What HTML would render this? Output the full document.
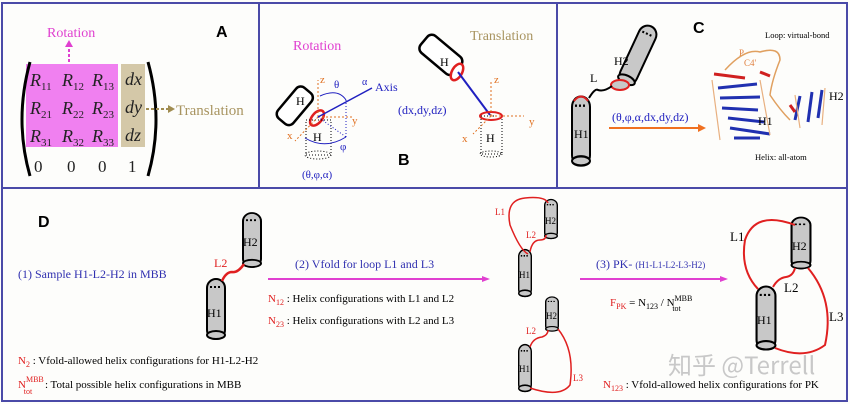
<!DOCTYPE html>
<html><head><meta charset="utf-8"><style>
body{margin:0;background:#fff}
svg{display:block}
.s{font-family:"Liberation Serif",serif}
.b{font-family:"Liberation Sans",sans-serif;font-weight:bold}
</style></head><body>
<svg width="850" height="404" viewBox="0 0 850 404" xmlns="http://www.w3.org/2000/svg">
<defs>
<g id="cylV"><!-- vertical cylinder centered at 0, width 18, height 60 -->
<rect x="-9" y="-30" width="18" height="60" rx="9" fill="#c8c8c8" stroke="#000" stroke-width="2"/>
<ellipse cx="0" cy="26" rx="9" ry="4" fill="#c8c8c8" stroke="#000" stroke-width="2"/>
<path d="M-6 -22 h12" stroke="#000" stroke-width="2" stroke-dasharray="2,2"/>
</g>
</defs>
<rect x="0" y="0" width="850" height="404" fill="#fdfdfb"/>
<!-- borders -->
<rect x="2" y="3" width="845" height="398" fill="none" stroke="#4a4aa8" stroke-width="2"/>
<line x1="2" y1="188" x2="847" y2="188" stroke="#4a4aa8" stroke-width="2"/>
<line x1="259" y1="3" x2="259" y2="188" stroke="#4a4aa8" stroke-width="2"/>
<line x1="557" y1="3" x2="557" y2="188" stroke="#4a4aa8" stroke-width="2"/>

<!-- Panel A -->
<text x="47" y="37" class="s" font-size="14" fill="#e040d0">Rotation</text>
<line x1="69" y1="62" x2="69" y2="46" stroke="#e040d0" stroke-width="2" stroke-dasharray="3,2"/>
<path d="M65 47 L69 40 L73 47Z" fill="#e040d0"/>
<rect x="26" y="64" width="92" height="83" fill="#f080f0"/>
<rect x="121" y="64" width="24" height="83" fill="#d4c8a8"/>
<g class="s" font-size="18" font-style="italic" fill="#222">
<text x="30" y="86">R<tspan font-size="11" font-style="normal" dy="4">11</tspan></text>
<text x="62" y="86">R<tspan font-size="11" font-style="normal" dy="4">12</tspan></text>
<text x="92" y="86">R<tspan font-size="11" font-style="normal" dy="4">13</tspan></text>
<text x="30" y="114">R<tspan font-size="11" font-style="normal" dy="4">21</tspan></text>
<text x="62" y="114">R<tspan font-size="11" font-style="normal" dy="4">22</tspan></text>
<text x="92" y="114">R<tspan font-size="11" font-style="normal" dy="4">23</tspan></text>
<text x="30" y="142">R<tspan font-size="11" font-style="normal" dy="4">31</tspan></text>
<text x="62" y="142">R<tspan font-size="11" font-style="normal" dy="4">32</tspan></text>
<text x="92" y="142">R<tspan font-size="11" font-style="normal" dy="4">33</tspan></text>
<text x="125" y="85">dx</text><text x="125" y="113">dy</text><text x="125" y="141">dz</text>
</g>
<g class="s" font-size="17" fill="#222"><text x="34" y="172">0</text><text x="67" y="172">0</text><text x="98" y="172">0</text><text x="128" y="172">1</text></g>
<path d="M30 62 Q14 120 30 176" fill="none" stroke="#000" stroke-width="3"/>
<path d="M148 62 Q164 120 148 176" fill="none" stroke="#000" stroke-width="3"/>
<line x1="146" y1="109" x2="170" y2="109" stroke="#a08c50" stroke-width="2" stroke-dasharray="3,2"/>
<path d="M168 105 L175 109 L168 113Z" fill="#a08c50"/>
<text x="176" y="115" class="s" font-size="15" fill="#a89460">Translation</text>
<text x="216" y="37" class="b" font-size="16">A</text>

<!-- Panel B -->
<text x="293" y="50" class="s" font-size="14" fill="#e040d0">Rotation</text>
<g transform="translate(298,102) rotate(-50)"><rect x="-25" y="-10" width="40" height="20" rx="6" fill="#fff" stroke="#000" stroke-width="2.5"/></g>
<text x="296" y="105" class="s" font-size="12">H</text>
<ellipse cx="317" cy="118" rx="5" ry="9" transform="rotate(40 317 118)" fill="none" stroke="#e02020" stroke-width="2.5"/>
<rect x="306" y="120" width="25" height="35" fill="none" stroke="#000" stroke-dasharray="1,2"/>
<ellipse cx="318" cy="155" rx="13" ry="4" fill="none" stroke="#000" stroke-dasharray="1,2"/>
<text x="313" y="141" class="s" font-size="12">H</text>
<line x1="318" y1="117" x2="318" y2="80" stroke="#e07020" stroke-dasharray="2,2"/>
<text x="320" y="83" class="s" font-size="11" fill="#e07020">z</text>
<line x1="318" y1="117" x2="352" y2="117" stroke="#e07020" stroke-dasharray="2,2"/>
<text x="352" y="124" class="s" font-size="11" fill="#e07020">y</text>
<line x1="318" y1="117" x2="295" y2="141" stroke="#e07020" stroke-dasharray="2,2"/>
<text x="287" y="139" class="s" font-size="11" fill="#e07020">x</text>
<line x1="318" y1="117" x2="372" y2="88" stroke="#2020c0" stroke-width="1.5"/>
<text x="375" y="91" class="s" font-size="12" fill="#2020c0">Axis</text>
<text x="362" y="85" class="s" font-size="10" fill="#2020c0">α</text>
<text x="334" y="88" class="s" font-size="11" fill="#2020c0">θ</text>
<path d="M320 96 Q338 88 346 100" fill="none" stroke="#2020c0"/>
<line x1="346" y1="100" x2="346" y2="137" stroke="#2020c0" stroke-dasharray="1,2"/>
<line x1="318" y1="117" x2="346" y2="137" stroke="#2020c0" stroke-dasharray="1,2"/>
<path d="M305 138 Q325 150 346 137" fill="none" stroke="#2020c0"/>
<text x="340" y="150" class="s" font-size="11" fill="#2020c0">φ</text>
<text x="302" y="178" class="s" font-size="11" fill="#2020c0">(θ,φ,α)</text>
<text x="398" y="165" class="b" font-size="16">B</text>
<text x="470" y="40" class="s" font-size="14" fill="#a89460">Translation</text>
<g transform="translate(447,60) rotate(40)"><rect x="-30" y="-11" width="44" height="22" rx="6" fill="#fff" stroke="#000" stroke-width="2.5"/></g>
<text x="440" y="66" class="s" font-size="12">H</text>
<ellipse cx="457" cy="72" rx="5" ry="9" transform="rotate(30 457 72)" fill="#fff" stroke="#e02020" stroke-width="2.5"/>
<line x1="458" y1="72" x2="490" y2="115" stroke="#2020c0" stroke-width="2"/>
<text x="398" y="114" class="s" font-size="12" fill="#2020c0">(dx,dy,dz)</text>
<rect x="481" y="116" width="21" height="38" fill="none" stroke="#000" stroke-dasharray="1,2"/>
<ellipse cx="491" cy="116" rx="11" ry="4" fill="none" stroke="#e02020" stroke-width="2"/>
<ellipse cx="491" cy="154" rx="11" ry="3" fill="none" stroke="#000" stroke-dasharray="1,2"/>
<text x="486" y="142" class="s" font-size="12">H</text>
<line x1="491" y1="116" x2="491" y2="80" stroke="#e07020" stroke-dasharray="2,2"/>
<text x="494" y="83" class="s" font-size="11" fill="#e07020">z</text>
<line x1="491" y1="116" x2="524" y2="116" stroke="#e07020" stroke-dasharray="2,2"/>
<text x="529" y="125" class="s" font-size="11" fill="#e07020">y</text>
<line x1="491" y1="116" x2="473" y2="134" stroke="#e07020" stroke-dasharray="2,2"/>
<text x="462" y="142" class="s" font-size="11" fill="#e07020">x</text>

<!-- Panel C -->
<text x="693" y="33" class="b" font-size="16">C</text>
<use href="#cylV" transform="translate(581,131) scale(1,1.15)"/>
<text x="574" y="138" class="s" font-size="12">H1</text>
<path d="M574 101 Q581 92 588 101" fill="none" stroke="#e02020" stroke-width="2"/>
<g transform="translate(638,55) rotate(25)"><use href="#cylV" transform="scale(1,1.05)"/></g>
<ellipse cx="620" cy="85" rx="9" ry="5" fill="#c8c8c8" stroke="#e02020" stroke-width="2"/>
<text x="614" y="65" class="s" font-size="12">H2</text>
<path d="M589 98 Q595 88 598 90 Q604 92 612 86" fill="none" stroke="#000" stroke-width="2"/>
<text x="590" y="82" class="s" font-size="12">L</text>
<text x="612" y="121" class="s" font-size="12" fill="#2020c0">(θ,φ,α,dx,dy,dz)</text>
<line x1="609" y1="128" x2="700" y2="128" stroke="#f07020" stroke-width="2"/>
<path d="M698 124 L706 128 L698 132Z" fill="#f07020"/>
<text x="765" y="38" class="s" font-size="8.5">Loop: virtual-bond</text>
<text x="755" y="160" class="s" font-size="8.5">Helix: all-atom</text>
<text x="739" y="56" class="s" font-size="9" fill="#e08040">P</text>
<text x="744" y="66" class="s" font-size="9" fill="#e08040">C4'</text>
<path d="M725 70 Q745 48 760 52 Q780 46 780 60 Q772 80 770 95 Q780 110 790 120" fill="none" stroke="#e0a060" stroke-width="1.5"/>
<g stroke="#2030b0" stroke-width="3">
<line x1="718" y1="88" x2="757" y2="84"/><line x1="720" y1="98" x2="760" y2="97"/>
<line x1="722" y1="108" x2="758" y2="110"/><line x1="728" y1="118" x2="764" y2="122"/>
<line x1="730" y1="128" x2="770" y2="134"/><line x1="734" y1="138" x2="760" y2="138"/>
<line x1="800" y1="96" x2="795" y2="120"/><line x1="812" y1="92" x2="808" y2="122"/><line x1="822" y1="90" x2="818" y2="118"/>
</g>
<g stroke="#d02020" stroke-width="3"><line x1="714" y1="74" x2="745" y2="78"/><line x1="760" y1="72" x2="770" y2="76"/><line x1="790" y1="105" x2="795" y2="112"/></g>
<g stroke="#e8b080" stroke-width="1.2" fill="none"><path d="M712 80 L720 140 M760 80 L770 135 M795 95 L800 128 M825 88 L822 125"/></g>
<text x="758" y="125" class="s" font-size="12">H1</text>
<text x="829" y="100" class="s" font-size="12">H2</text>

<!-- Panel D -->
<text x="38" y="227" class="b" font-size="16">D</text>
<text x="18" y="278" class="s" font-size="12" fill="#3030b0">(1) Sample H1-L2-H2 in MBB</text>
<use href="#cylV" transform="translate(216,309)"/>
<text x="207" y="317" class="s" font-size="12">H1</text>
<use href="#cylV" transform="translate(252,240) scale(1,0.9)"/>
<text x="243" y="246" class="s" font-size="12">H2</text>
<path d="M222 281 Q226 272 232 272 Q238 273 244 264" fill="none" stroke="#e02020" stroke-width="2.5"/>
<text x="214" y="267" class="s" font-size="12" fill="#e02020">L2</text>
<text x="295" y="268" class="s" font-size="12" fill="#3030b0">(2) Vfold for loop L1 and L3</text>
<line x1="268" y1="279" x2="484" y2="279" stroke="#e040d0" stroke-width="2"/>
<path d="M482 276 L490 279 L482 282Z" fill="#e040d0"/>
<text x="268" y="302" class="s" font-size="11"><tspan fill="#e02020">N<tspan font-size="8" dy="3">12</tspan></tspan><tspan dy="-3"> : Helix configurations with L1 and L2</tspan></text>
<text x="268" y="324" class="s" font-size="11"><tspan fill="#e02020">N<tspan font-size="8" dy="3">23</tspan></tspan><tspan dy="-3"> : Helix configurations with L2 and L3</tspan></text>
<text x="18" y="364" class="s" font-size="11"><tspan fill="#e02020">N<tspan font-size="8" dy="3">2</tspan></tspan><tspan dy="-3"> : Vfold-allowed helix configurations for H1-L2-H2</tspan></text>
<text x="18" y="388" class="s" font-size="11"><tspan fill="#e02020">N<tspan font-size="8" dy="-6">MBB</tspan><tspan font-size="8" dx="-20" dy="12">tot</tspan></tspan><tspan dx="10" dy="-6"> : Total possible helix configurations in MBB</tspan></text>

<!-- middle small -->
<g transform="translate(551,219) scale(0.7,0.65)"><use href="#cylV"/></g>
<text x="545" y="224" class="s" font-size="9">H2</text>
<g transform="translate(525,273) scale(0.7,0.78)"><use href="#cylV"/></g>
<text x="519" y="278" class="s" font-size="9">H1</text>
<path d="M528 254 Q520 250 510 225 Q505 200 525 198 Q545 196 548 203" fill="none" stroke="#e02020" stroke-width="1.5"/>
<path d="M530 252 Q532 240 540 240 Q546 240 546 235" fill="none" stroke="#e02020" stroke-width="1.5"/>
<text x="495" y="215" class="s" font-size="9" fill="#e02020">L1</text>
<text x="526" y="238" class="s" font-size="9" fill="#e02020">L2</text>
<g transform="translate(552,314) scale(0.7,0.57)"><use href="#cylV"/></g>
<text x="546" y="319" class="s" font-size="9">H2</text>
<g transform="translate(525,368) scale(0.7,0.78)"><use href="#cylV"/></g>
<text x="519" y="372" class="s" font-size="9">H1</text>
<path d="M530 347 Q533 338 542 337 Q548 335 548 330" fill="none" stroke="#e02020" stroke-width="1.5"/>
<path d="M558 329 Q575 350 570 385 Q560 398 530 388" fill="none" stroke="#e02020" stroke-width="1.5"/>
<text x="526" y="334" class="s" font-size="9" fill="#e02020">L2</text>
<text x="573" y="381" class="s" font-size="9" fill="#e02020">L3</text>

<text x="596" y="268" class="s" font-size="12" fill="#3030b0">(3) PK- <tspan font-size="9">(H1-L1-L2-L3-H2)</tspan></text>
<line x1="580" y1="279" x2="722" y2="279" stroke="#e040d0" stroke-width="2"/>
<path d="M720 276 L728 279 L720 282Z" fill="#e040d0"/>
<text x="610" y="306" class="s" font-size="11"><tspan fill="#e02020">F<tspan font-size="8" dy="3">PK</tspan></tspan><tspan dy="-3"> = N</tspan><tspan font-size="8" dy="3">123</tspan><tspan dy="-3"> / N</tspan><tspan font-size="8" dy="-5">MBB</tspan><tspan font-size="8" dx="-20" dy="10">tot</tspan></text>

<!-- right PK -->
<use href="#cylV" transform="translate(801,243) scale(1.05,0.85)"/>
<text x="792" y="250" class="s" font-size="12">H2</text>
<use href="#cylV" transform="translate(766,318) scale(1.05,1.05)"/>
<text x="757" y="324" class="s" font-size="12">H1</text>
<path d="M758 289 Q740 270 745 240 Q755 210 795 225" fill="none" stroke="#e02020" stroke-width="2"/>
<path d="M773 287 Q778 278 786 277 Q793 276 795 268" fill="none" stroke="#e02020" stroke-width="2"/>
<path d="M808 268 Q835 300 825 345 Q805 360 775 348" fill="none" stroke="#e02020" stroke-width="2"/>
<text x="730" y="241" class="s" font-size="13">L1</text>
<text x="784" y="292" class="s" font-size="13">L2</text>
<text x="829" y="321" class="s" font-size="13">L3</text>
<text x="668" y="374" font-family="'Noto Sans CJK SC','Liberation Sans',sans-serif" font-size="24" fill="#c8c8c8">知乎 @Terrell</text>
<text x="603" y="388" class="s" font-size="11"><tspan fill="#e02020">N<tspan font-size="8" dy="3">123</tspan></tspan><tspan dy="-3"> : Vfold-allowed helix configurations for PK</tspan></text>
</svg>
</body></html>
